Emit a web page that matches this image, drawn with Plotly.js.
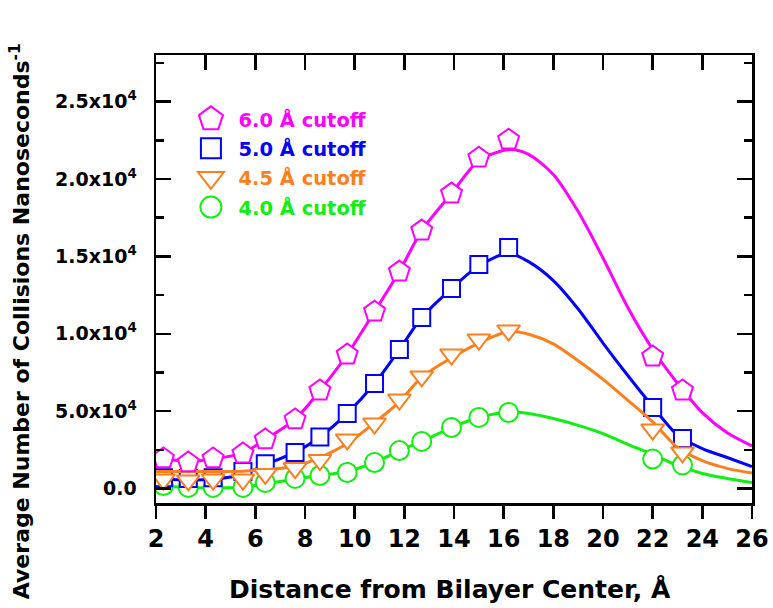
<!DOCTYPE html>
<html>
<head>
<meta charset="utf-8">
<script src="https://cdn.plot.ly/plotly-3.0.1.min.js"></script>
<style>html,body{margin:0;padding:0;background:#fff;}#plot{width:773px;height:608px;}</style>
</head>
<body>
<div id="plot"></div>
<script>
// ---- data ----
var markerX = [2.3, 3.3, 4.3, 5.5, 6.4, 7.6, 8.6, 9.7, 10.8, 11.8, 12.7, 13.9, 15.0, 16.2, 22.0, 23.2];
var cut60 = [1940, 1680, 1940, 2260, 3170, 4460, 6330, 8660, 11430, 14020, 16670, 19060, 21380, 22550, 8530, 6330];
var cut50 = [700, 650, 700, 1100, 1600, 2330, 3330, 4850, 6780, 8980, 11050, 12920, 14470, 15570, 5230, 3230];
var cut45 = [580, 520, 580, 580, 940, 1320, 1840, 3170, 4200, 5750, 7240, 8660, 9630, 10210, 3810, 2330];
var cut40 = [190, 65, 65, 65, 390, 650, 840, 1030, 1680, 2450, 3040, 3940, 4590, 4910, 1900, 1520];

var lineX = [2.0, 2.3, 3.3, 4.3, 5.5, 6.4, 7.6, 8.6, 9.7, 10.8, 11.8, 12.7, 13.9, 15.0, 16.2, 17, 18, 19, 20, 21, 22, 23, 24, 25, 26];
var line60 = [2000, 1940, 1750, 1900, 2300, 3170, 4460, 6330, 8660, 11430, 14020, 16670, 19060, 21200, 21900, 21600, 20300, 17900, 14900, 11700, 9000, 6800, 4900, 3600, 2750];
var line50 = [600, 600, 550, 600, 900, 1550, 2330, 3330, 4850, 6780, 8980, 11050, 12920, 14400, 15200, 14660, 13440, 11600, 9400, 7300, 5300, 3450, 2580, 2000, 1420];
var line45 = [1100, 1100, 1100, 1100, 1120, 1200, 1450, 2000, 2900, 4250, 5600, 7200, 8450, 9400, 10150, 9970, 9350, 8250, 7050, 5700, 4300, 2650, 1800, 1300, 1000];
var line40 = [150, 150, 50, 50, 80, 300, 600, 840, 1100, 1680, 2450, 3040, 3940, 4590, 4950, 4850, 4520, 4080, 3550, 2850, 2200, 1490, 970, 650, 390];

var seriesNames = ['6.0 Å cutoff', '5.0 Å cutoff', '4.5 Å cutoff', '4.0 Å cutoff'];
var yTickVals = [0, 5000, 10000, 15000, 20000, 25000];
var yTickText = ['0.0', '5.0x10<sup>4</sup>', '1.0x10<sup>4</sup>', '1.5x10<sup>4</sup>', '2.0x10<sup>4</sup>', '2.5x10<sup>4</sup>'];
var xTickVals = [2, 4, 6, 8, 10, 12, 14, 16, 18, 20, 22, 24, 26];

// ---- styling ----
var C60 = '#ff00ff', C50 = '#0000ff', C45 = '#ff7f1e', C40 = '#11ee11';
var FONT = 'DejaVu Sans';

function lineTrace(y, color) {
  return {x: lineX, y: y, mode: 'lines', type: 'scatter', showlegend: false, hoverinfo: 'skip',
          line: {color: color, width: 3, shape: 'spline', smoothing: 0.8}};
}
function markTrace(y, color, symbol, size, name, rank) {
  return {x: markerX, y: y, mode: 'markers', type: 'scatter', legendrank: rank, legendgroup: 'g' + rank,
          name: '<span style="color:' + color + '">' + name + '</span>',
          marker: {symbol: symbol, size: size, color: '#ffffff', line: {color: color, width: 2}}};
}

var data = [
  lineTrace(line40, C40), markTrace(cut40, C40, 'circle', 19, seriesNames[3], 4),
  lineTrace(line50, C50), markTrace(cut50, C50, 'square', 17, seriesNames[1], 2),
  lineTrace(line45, C45), markTrace(cut45, C45, 'triangle-down', 20, seriesNames[2], 3),
  lineTrace(line60, C60), markTrace(cut60, C60, 'pentagon', 22, seriesNames[0], 1),
  {x: [], y: [], xaxis: 'x2', type: 'scatter', showlegend: false}
];

var axisBase = {showgrid: false, zeroline: false, showline: true, linewidth: 2.5, linecolor: '#000',
                tickcolor: '#000', tickwidth: 2.5};

var layout = {
  width: 773, height: 608,
  margin: {l: 156, r: 21, t: 55, b: 105},
  paper_bgcolor: '#fff', plot_bgcolor: '#fff',
  xaxis: Object.assign({}, axisBase, {
    range: [2, 26], tickmode: 'array', tickvals: xTickVals, ticks: 'outside', ticklen: 13,
    tickfont: {family: FONT, size: 24, weight: 'bold', color: '#000'}
  }),
  xaxis2: Object.assign({}, axisBase, {
    overlaying: 'x', side: 'top', anchor: 'y', range: [2, 26], tickmode: 'array', tickvals: xTickVals,
    ticks: 'inside', ticklen: 15, showticklabels: false
  }),
  yaxis: Object.assign({}, axisBase, {
    range: [-940, 28020], tickmode: 'array', tickvals: yTickVals, ticktext: yTickText,
    ticks: 'inside', ticklen: 15, mirror: 'ticks', ticklabelstandoff: 13,
    minor: {tickmode: 'linear', tick0: 0, dtick: 2500, ticks: 'inside', ticklen: 8, tickwidth: 2.5, tickcolor: '#000', showgrid: false},
    tickfont: {family: FONT, size: 19, weight: 'bold', color: '#000'}
  }),
  legend: {x: 0.046, y: 0.9, xanchor: 'left', yanchor: 'top', bgcolor: 'rgba(0,0,0,0)',
           borderwidth: 0, itemwidth: 45, traceorder: 'grouped', tracegroupgap: 1,
           font: {family: FONT, size: 19.5, weight: 'bold', color: '#000'}},
  annotations: [
    {xref: 'paper', yref: 'paper', x: 0.493, y: -0.194, xanchor: 'center', yanchor: 'middle', showarrow: false,
     text: 'Distance from Bilayer Center, Å', font: {family: FONT, size: 25, weight: 'bold', color: '#000'}},
    {xref: 'paper', yref: 'paper', x: -0.228, y: 0.406, xanchor: 'center', yanchor: 'middle', showarrow: false,
     textangle: -90, text: 'Average Number of Collisions Nanoseconds<sup>-1</sup>',
     font: {family: FONT, size: 22, weight: 'bold', color: '#000'}}
  ]
};

Plotly.newPlot('plot', data, layout, {staticPlot: true, displayModeBar: false}).then(function (gd) {
  // enlarge legend symbols to match the reference key size
  var targets = [24, 20, 26, 21];
  var items = gd.querySelectorAll('.legend .traces');
  items.forEach(function (it, i) {
    var p = it.querySelector('.legendpoints path.scatterpts');
    if (!p) return;
    var bb = p.getBBox();
    var s = (targets[i] || 20) / bb.width;
    var t = p.getAttribute('transform') || '';
    p.setAttribute('transform', t + ' scale(' + s + ')');
    p.style.strokeWidth = (2 / s) + 'px';
  });
});
</script>
</body>
</html>
